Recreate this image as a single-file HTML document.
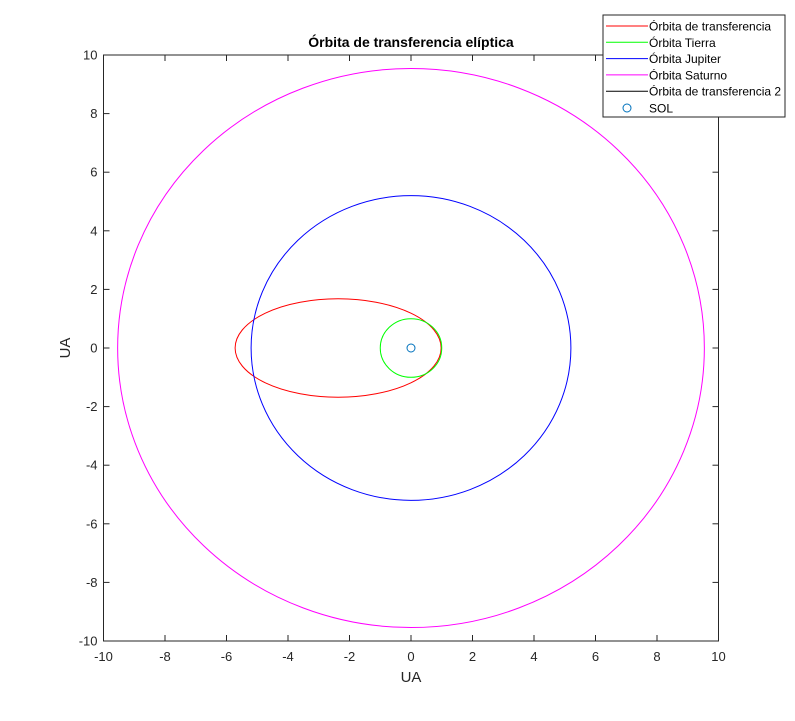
<!DOCTYPE html>
<html><head><meta charset="utf-8"><style>
body{margin:0;background:#fff;}
svg{display:block;font-family:"Liberation Sans",Arial,sans-serif;}
</style></head><body>
<svg id="chart" width="795" height="721" viewBox="0 0 795 721"></svg>
<script>
const xTicks=[-10,-8,-6,-4,-2,0,2,4,6,8,10];
const yTicks=[-10,-8,-6,-4,-2,0,2,4,6,8,10];
const orbitNames=["Órbita de transferencia","Órbita Tierra","Órbita Jupiter","Órbita Saturno","Órbita de transferencia 2"];
const orbitColors=["#ff0000","#00ff00","#0000ff","#ff00ff","#000000"];
const orbitCenterX=[-2.37,0,0,0,0];
const orbitSemiA=[3.35,1,5.2,9.54,0];
const orbitSemiB=[1.68,1,5.2,9.54,0];
const sunX=[0], sunY=[0];
const L=103.5,R=718.5,T=55,B=641;
const sx=v=>L+(v+10)/20*(R-L);
const sy=v=>B-(v+10)/20*(B-T);
const svg=document.getElementById('chart');
const NS='http://www.w3.org/2000/svg';
function mk(tag,attrs,parent){const e=document.createElementNS(NS,tag);for(const k in attrs)e.setAttribute(k,attrs[k]);(parent||svg).appendChild(e);return e;}
const ax=mk('rect',{x:L,y:T,width:R-L,height:B-T,fill:'#fff',stroke:'#262626','stroke-width':1});


xTicks.forEach(v=>{const x=sx(v);
mk('line',{x1:x,x2:x,y1:B,y2:B-6,stroke:'#262626'});mk('line',{x1:x,x2:x,y1:T,y2:T+6,stroke:'#262626'});
const t=mk('text',{x:x,y:B+20,'text-anchor':'middle','font-size':13,fill:'#262626'});t.textContent=v;

});
yTicks.forEach(v=>{const y=sy(v);
mk('line',{x1:L,x2:L+6,y1:y,y2:y,stroke:'#262626'});mk('line',{x1:R,x2:R-6,y1:y,y2:y,stroke:'#262626'});
const t=mk('text',{x:L-6,y:y+4.5,'text-anchor':'end','font-size':13,fill:'#262626'});t.textContent=v;

});
orbitNames.forEach((n,i)=>{if(orbitSemiA[i]<=0)return;
const e=mk('ellipse',{cx:sx(orbitCenterX[i]),cy:sy(0),rx:orbitSemiA[i]/20*(R-L),ry:orbitSemiB[i]/20*(B-T),fill:'none',stroke:orbitColors[i],'stroke-width':1});

});
sunX.forEach((v,i)=>{const c=mk('circle',{cx:sx(v),cy:sy(sunY[i]),r:4,fill:'none',stroke:'#0072BD','stroke-width':1});

});
let t=mk('text',{x:411,y:47,'text-anchor':'middle','font-size':14,'font-weight':'bold',fill:'#000'});t.textContent='Órbita de transferencia elíptica';


t=mk('text',{x:411,y:682,'text-anchor':'middle','font-size':15,fill:'#262626'});t.textContent='UA';


t=mk('text',{x:70,y:348,'text-anchor':'middle','font-size':15,fill:'#262626',transform:'rotate(-90 70 348)'});t.textContent='UA';


const lg=mk('g',{});


mk('rect',{x:603,y:15,width:182,height:102,fill:'#fff',stroke:'#262626'},lg);
orbitNames.forEach((n,i)=>{const y=26+i*16.3;
mk('line',{x1:606,x2:648,y1:y,y2:y,stroke:orbitColors[i]},lg);
const tt=mk('text',{x:649,y:y+4.5,'font-size':12,fill:'#000'},lg);tt.textContent=n;

});
mk('circle',{cx:627,cy:108,r:4,fill:'none',stroke:'#0072BD'},lg);
t=mk('text',{x:649,y:112.5,'font-size':12,fill:'#000'},lg);t.textContent='SOL';


</script>
</body></html>
